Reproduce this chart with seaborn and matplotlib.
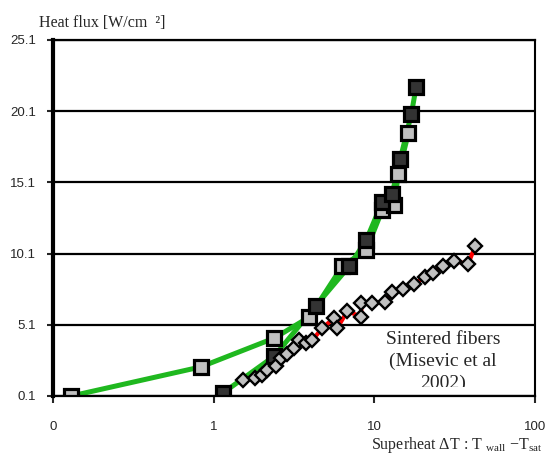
import numpy as np
import pandas as pd
import matplotlib
matplotlib.use("Agg")
import matplotlib.pyplot as plt
import seaborn as sns
from matplotlib.patches import Rectangle

# Dados (superaquecimento em K, fluxo em W/cm2)
claro_dt = [0.13, 0.83, 2.39, 3.94, 6.33, 8.91, 11.2, 13.3, 14.1, 16.3]
claro_q = [0.1, 2.14, 4.17, 5.65, 9.23, 10.35, 13.16, 13.51, 15.69, 18.57]

escuro_dt = [1.14, 2.39, 4.31, 7.0, 8.91, 11.2, 12.9, 14.5, 17.0, 18.2]
escuro_q = [0.31, 2.91, 6.42, 9.23, 11.06, 13.72, 14.29, 16.74, 19.9, 21.8]

fibras_dt = [1.53, 1.80, 2.01, 2.16, 2.46, 2.61, 2.88, 3.18, 3.42, 3.73, 4.12,
             4.75, 5.64, 5.89, 6.80, 8.30, 8.30, 9.72, 11.7, 12.9, 15.1, 17.7,
             20.7, 23.2, 26.8, 31.4, 38.4, 42.4]
fibras_q = [1.22, 1.36, 1.57, 1.93, 2.21, 2.77, 3.05, 3.47, 4.03, 3.82, 4.03,
            4.88, 5.58, 4.88, 6.07, 5.65, 6.63, 6.63, 6.70, 7.40, 7.61, 7.97,
            8.46, 8.74, 9.23, 9.58, 9.37, 10.63]

x_ticks = [0.1, 1, 10, 100]
x_tick_labels = ["0", "1", "10", "100"]
y_ticks = [0.1, 5.1, 10.1, 15.1, 20.1, 25.1]
y_tick_labels = ["0.1", "5.1", "10.1", "15.1", "20.1", "25.1"]

sns.set_style("white")
plt.rcParams["font.family"] = ["Liberation Sans", "DejaVu Sans"]
plt.rcParams["mathtext.fontset"] = "custom"
plt.rcParams["mathtext.rm"] = "Liberation Serif"
plt.rcParams["mathtext.it"] = "Liberation Serif:italic"

VERDE = "#1fb81f"
CLARO = "#c0c0c0"
ESCURO = "#333333"

fig = plt.figure(figsize=(5.48, 4.54), dpi=100)
ax = fig.add_axes([53 / 548, 1 - 396 / 454, 482 / 548, 356 / 454])
ax.set_xscale("log")

df_claro = pd.DataFrame({"dt": claro_dt, "q": claro_q})
df_escuro = pd.DataFrame({"dt": escuro_dt, "q": escuro_q})
df_fib = pd.DataFrame({"dt": fibras_dt, "q": fibras_q})

# linhas verdes
sns.lineplot(data=df_claro, x="dt", y="q", sort=False, estimator=None,
             color=VERDE, lw=3.6, ax=ax, zorder=3)
sns.lineplot(data=df_escuro, x="dt", y="q", sort=False, estimator=None,
             color=VERDE, lw=3.6, ax=ax, zorder=3)

# quadrados
ax.plot(df_claro["dt"], df_claro["q"], ls="none", marker="s", ms=10,
        mfc=CLARO, mec="black", mew=2.3, zorder=4)
ax.plot(df_escuro["dt"], df_escuro["q"], ls="none", marker="s", ms=10,
        mfc=ESCURO, mec="black", mew=2.3, zorder=5)

# fibras sinterizadas
sns.lineplot(data=df_fib, x="dt", y="q", sort=False, estimator=None,
             color="red", lw=3, ax=ax, zorder=6)
ax.plot(df_fib["dt"], df_fib["q"], ls="none", marker="D", ms=6.8,
        mfc=CLARO, mec="black", mew=1.7, zorder=7)

ax.set_xlim(0.1, 100)
ax.set_ylim(0.1, 25.1)
ax.set_xticks(x_ticks)
ax.set_xticklabels(x_tick_labels)
ax.xaxis.set_minor_locator(matplotlib.ticker.NullLocator())
ax.set_yticks(y_ticks)
ax.set_yticklabels(y_tick_labels)
ax.tick_params(axis="x", direction="out", length=5, width=1.5, pad=13,
               labelsize=9.5, bottom=True)
ax.tick_params(axis="y", direction="out", length=4, width=1.5, pad=8,
               labelsize=9.5, left=True)
ax.set_xlabel("")
ax.set_ylabel("")

for y in y_ticks:
    ax.axhline(y, color="black", lw=1.6, zorder=1)

ax.spines["left"].set_linewidth(3)
ax.spines["right"].set_linewidth(1.5)
ax.spines["top"].set_linewidth(1.6)
ax.spines["bottom"].set_linewidth(1.6)
for s in ax.spines.values():
    s.set_color("black")
    s.set_zorder(8)

fig.text(39 / 548, 1 - 23 / 454, "Heat flux [W/cm  \u00b2]",
         family="Liberation Serif", fontsize=11.5, ha="left", va="center")
fig.text(542 / 548, 1 - 445 / 454,
         r"Superheat $\Delta$T : T $_{\mathrm{wall}}$ $-$T$_{\mathrm{sat}}$",
         family="Liberation Serif", fontsize=11.5, ha="right", va="center")

ax.text(0.809, 0.097, "Sintered fibers\n(Misevic et al\n2002)",
        transform=ax.transAxes, family="Liberation Serif", fontsize=14,
        ha="center", va="center", linespacing=1.36, zorder=9)
# caixa de texto corta a última linha
ax.add_patch(Rectangle((0.62, 0.007), 0.34, 0.019, transform=ax.transAxes,
                       facecolor="white", edgecolor="none", zorder=9.5))

fig.savefig("out.png", dpi=100)
